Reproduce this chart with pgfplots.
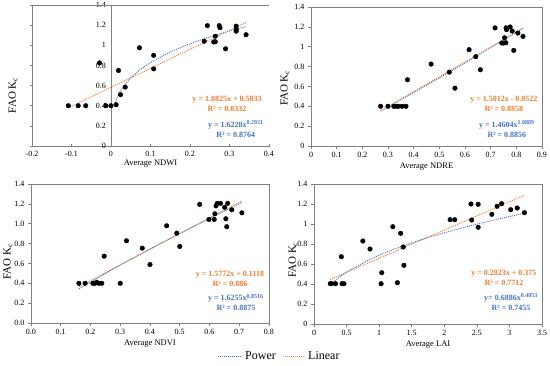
\documentclass[border=0pt]{standalone}
\usepackage{fontspec}
\setmainfont{Liberation Serif}
\usepackage{pgfplots}
\pgfplotsset{compat=1.18}
\definecolor{pwr}{HTML}{4472C4}
\definecolor{lin}{HTML}{ED7D31}
\definecolor{axgray}{HTML}{7F7F7F}
\tikzset{eq/.style={align=center, font=\bfseries\fontsize{8}{10}\selectfont}}
\pgfplotsset{
  kc/.style={
    scale only axis,
    axis line style={axgray, line width=0.8pt},
    tick style={axgray, line width=0.6pt},
    major tick length=3pt,
    tick align=outside,
    xtick pos=left, ytick pos=left,
    ymin=0, ymax=1.4,
    ytick={0,0.2,0.4,0.6,0.8,1,1.2,1.4},
    yticklabels={0,0.2,0.4,0.6,0.8,1,1.2,1.4},
    tick label style={font=\fontsize{8}{9}\selectfont},
    xlabel style={font=\fontsize{8.5}{10}\selectfont, yshift=2pt},
    /pgf/number format/assume math mode=true,
    ylabel={FAO K\textsubscript{c}},
  },
  dat/.style={only marks, mark=*, mark size=2.3pt, black, forget plot},
  pw/.style={pwr, line width=0.9pt, dash pattern=on 1pt off 1pt, mark=none, smooth, forget plot},
  ln/.style={lin, line width=0.9pt, dash pattern=on 1pt off 1pt, mark=none, forget plot},
}
\begin{document}
\begin{tikzpicture}
\useasboundingbox (0pt,0pt) rectangle (550pt,365pt);
% ---------------- Panel 1: NDWI
\begin{axis}[kc, at={(32pt,360pt)}, anchor=north west, width=237pt, height=141pt,
  xmin=-0.2, xmax=0.4,
  xtick={-0.2,-0.1,0,0.1,0.2,0.3,0.4},
  xticklabels={-0.2,-0.1,0,0.1,0.2,0.3,0.4},
  axis x line=bottom, axis y line=middle, axis line style={-},
  hide obscured x ticks=false, hide obscured y ticks=false,
  xlabel={Average NDWI},
  xlabel style={at={(rel axis cs:0.5,0)}, anchor=north, yshift=-12pt},
  ylabel style={at={(rel axis cs:-0.08,0.36)}, rotate=90, anchor=center, font=\fontsize{11}{12}\selectfont},
]
\draw[axgray, line width=0.8pt] (rel axis cs:0,0) rectangle (rel axis cs:1,1);
\addplot[dat] coordinates {
(-0.108,0.40) (-0.083,0.40) (-0.064,0.40) (-0.029,0.825) (-0.013,0.40)
(0.000,0.40) (0.013,0.41) (0.019,0.75) (0.024,0.51) (0.036,0.585)
(0.072,0.975) (0.108,0.90) (0.108,0.766) (0.236,1.04) (0.244,1.195)
(0.260,1.033) (0.264,1.035) (0.264,1.09) (0.274,1.195) (0.276,1.175)
(0.290,0.965) (0.317,1.19) (0.317,1.14) (0.317,1.16) (0.342,1.105)};
\addplot[pw] coordinates {
(0.01,0.4227) (0.02,0.5177) (0.03,0.5826) (0.05,0.6764) (0.075,0.7616)
(0.1,0.8283) (0.15,0.9325) (0.2,1.0141) (0.25,1.0824) (0.3,1.1417) (0.342,1.1863)};
\addplot[ln] coordinates {(-0.108,0.3800) (0.342,1.2271)};
\node[eq, text=lin] at (rel axis cs:0.823,0.298) {y = 1.8825x + 0.5833\\R² = 0.8332};
\node[eq, text=pwr] at (rel axis cs:0.86,0.121) {y = 1.6228x\textsuperscript{0.2921}\\R² = 0.8764};
\end{axis}
% ---------------- Panel 2: NDRE
\begin{axis}[kc, at={(311pt,358pt)}, anchor=north west, width=231pt, height=139pt,
  xmin=0, xmax=0.9,
  xtick={0,0.1,0.2,0.3,0.4,0.5,0.6,0.7,0.8,0.9},
  xticklabels={0,0.1,0.2,0.3,0.4,0.5,0.6,0.7,0.8,0.9},
  xlabel={Average NDRE},
  ylabel style={at={(rel axis cs:-0.113,0.417)}, rotate=0, anchor=center, font=\fontsize{11}{12}\selectfont},
]
\addplot[dat] coordinates {
(0.271,0.40) (0.300,0.40) (0.323,0.40) (0.333,0.40) (0.340,0.40) (0.355,0.40) (0.370,0.40)
(0.376,0.667) (0.468,0.825) (0.539,0.744) (0.561,0.582) (0.616,0.97) (0.642,0.90)
(0.660,0.768) (0.717,1.19) (0.743,1.037) (0.751,1.037) (0.754,1.09) (0.759,1.040)
(0.760,1.19) (0.762,1.172) (0.776,1.199) (0.784,1.158) (0.790,0.963) (0.806,1.138) (0.826,1.104)};
\addplot[pw] coordinates {(0.271,0.3524) (0.4,0.5384) (0.55,0.7616) (0.7,0.9903) (0.826,1.1859)};
\addplot[ln] coordinates {(0.271,0.3546) (0.826,1.1878)};
\node[eq, text=lin] at (rel axis cs:0.835,0.302) {y = 1.5012x - 0.0522\\R² = 0.8858};
\node[eq, text=pwr] at (rel axis cs:0.848,0.122) {y = 1.4604x\textsuperscript{1.0889}\\R² = 0.8856};
\end{axis}
% ---------------- Panel 3: NDVI
\begin{axis}[kc, at={(31pt,181pt)}, anchor=north west, width=238pt, height=139pt,
  xmin=0, xmax=0.8,
  xtick={0,0.1,0.2,0.3,0.4,0.5,0.6,0.7,0.8},
  xticklabels={0.0,0.1,0.2,0.3,0.4,0.5,0.6,0.7,0.8},
  yticklabels={0.0,0.2,0.4,0.6,0.8,1.0,1.2,1.4},
  xlabel={Average NDVI},
  ylabel style={at={(rel axis cs:-0.097,0.44)}, rotate=0, anchor=center, font=\fontsize{11}{12}\selectfont},
]
\addplot[dat] coordinates {
(0.161,0.40) (0.182,0.40) (0.208,0.40) (0.215,0.40) (0.221,0.41) (0.228,0.40) (0.238,0.40)
(0.300,0.40) (0.246,0.673) (0.321,0.828) (0.374,0.754) (0.400,0.589) (0.456,0.979)
(0.490,0.905) (0.500,0.771) (0.567,1.195) (0.598,1.043) (0.616,1.043) (0.618,1.10)
(0.622,1.18) (0.626,1.205) (0.637,1.205) (0.651,1.165) (0.655,1.05) (0.661,1.205)
(0.658,0.97) (0.675,1.14) (0.709,1.11)};
\addplot[pw] coordinates {(0.161,0.3432) (0.3,0.5831) (0.45,0.8235) (0.6,1.0522) (0.709,1.2128)};
\addplot[ln] coordinates {(0.161,0.3657) (0.709,1.2300)};
\node[eq, text=lin] at (rel axis cs:0.836,0.32) {y = 1.5772x + 0.1118\\R² = 0.886};
\node[eq, text=pwr] at (rel axis cs:0.861,0.147) {y = 1.6255x\textsuperscript{0.8516}\\R² = 0.8875};
\end{axis}
% ---------------- Panel 4: LAI
\begin{axis}[kc, at={(314pt,181pt)}, anchor=north west, width=228pt, height=140pt,
  xmin=0, xmax=3.5,
  xtick={0,0.5,1,1.5,2,2.5,3,3.5},
  xticklabels={0,0.5,1,1.5,2,2.5,3,3.5},
  xlabel={Average LAI},
  ylabel style={at={(rel axis cs:-0.092,0.457)}, rotate=0, anchor=center, font=\fontsize{11}{12}\selectfont},
]
\addplot[dat] coordinates {
(0.25,0.403) (0.27,0.403) (0.33,0.403) (0.43,0.403) (0.46,0.403) (0.42,0.673)
(0.75,0.83) (0.86,0.75) (1.03,0.403) (1.04,0.513) (1.21,0.973) (1.28,0.413)
(1.33,0.907) (1.37,0.77) (1.38,0.587) (2.09,1.043) (2.16,1.043) (2.41,1.20)
(2.42,1.04) (2.52,1.197) (2.52,0.967) (2.73,1.097) (2.81,1.177) (2.88,1.203)
(3.02,1.143) (3.12,1.16) (3.23,1.113)};
\addplot[pw] coordinates {(0.25,0.3926) (0.5,0.52) (1,0.6886) (1.5,0.8116) (2,0.9119) (2.5,0.9983) (3,1.0748) (3.23,1.1076)};
\addplot[ln] coordinates {(0.25,0.4456) (3.23,1.2868)};
\node[eq, text=lin] at (rel axis cs:0.833,0.329) {y = 0.2823x + 0.375\\R² = 0.7712};
\node[eq, text=pwr] at (rel axis cs:0.864,0.154) {y= 0.6886x\textsuperscript{0.4053}\\R² = 0.7455};
\end{axis}
% ---------------- Legend
\draw[pwr, line width=0.9pt, dash pattern=on 1pt off 1pt] (218pt,9pt) -- (242pt,9pt);
\node[anchor=west, inner sep=0pt, font=\fontsize{12}{13}\selectfont] at (245pt,9pt) {Power};
\draw[lin, line width=0.9pt, dash pattern=on 1pt off 1pt] (285pt,9pt) -- (305pt,9pt);
\node[anchor=west, inner sep=0pt, font=\fontsize{12}{13}\selectfont] at (308pt,9pt) {Linear};
\end{tikzpicture}
\end{document}
